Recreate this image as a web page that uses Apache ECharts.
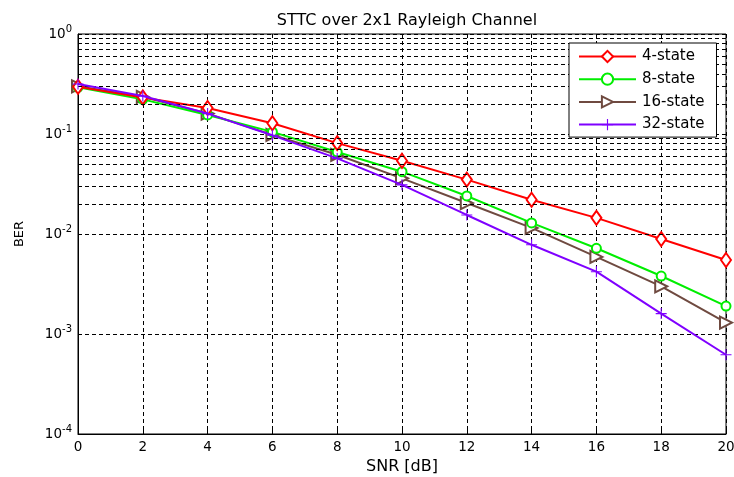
<!DOCTYPE html>
<html><head><meta charset="utf-8">
<script src="https://cdn.jsdelivr.net/npm/echarts@6/dist/echarts.min.js"></script>
<style>html,body{margin:0;padding:0;background:#fff}#c{width:734px;height:477px}</style>
</head><body><div id="c"></div>
<script>
const snr = [0, 2, 4, 6, 8, 10, 12, 14, 16, 18, 20];
const state4 = [0.296, 0.232, 0.182, 0.128, 0.081, 0.054, 0.035, 0.022, 0.0145, 0.0089, 0.0055];
const state8 = [0.293, 0.222, 0.155, 0.105, 0.066, 0.042, 0.024, 0.0129, 0.0072, 0.0038, 0.0019];
const state16 = [0.30, 0.235, 0.16, 0.098, 0.062, 0.036, 0.0204, 0.0115, 0.0059, 0.0030, 0.0013];
const state32 = [0.316, 0.24, 0.16, 0.097, 0.057, 0.031, 0.0155, 0.0078, 0.0042, 0.0016, 0.00062];
const names = ['4-state', '8-state', '16-state', '32-state'];
const minorGrid = [];
for (let e = -4; e < 0; e++) for (let m = 2; m <= 9; m++) minorGrid.push(m * Math.pow(10, e));

const font = 'DejaVu Sans, sans-serif';
const pairs = a => snr.map((x, i) => [x, a[i]]);
const plusPath = 'path://M-1,-10L1,-10L1,-1L10,-1L10,1L1,1L1,10L-1,10L-1,1L-10,1L-10,-1L-1,-1Z';
const dash = [4, 3];

const chart = echarts.init(document.getElementById('c'), null, {renderer: 'canvas'});
chart.setOption({
  animation: false,
  backgroundColor: '#fff',
  title: {
    text: 'STTC over 2x1 Rayleigh Channel', left: 402, top: 8, textAlign: 'center',
    textStyle: {fontFamily: font, fontSize: 16, fontWeight: 'normal', color: '#000'}
  },
  grid: {left: 78, right: 8, top: 34, bottom: 43, show: true, borderColor: '#000', borderWidth: 1,
         outerBoundsMode: 'none', containLabel: false},
  legend: {
    orient: 'vertical', left: 569, top: 43, zlevel: 2,
    backgroundColor: '#fff', borderColor: '#000', borderWidth: 1,
    padding: [6, 12, 5, 9], itemWidth: 57, itemHeight: 14, itemGap: 7.7,
    data: names,
    textStyle: {fontFamily: font, fontSize: 15, color: '#000', padding: [0, 0, 0, 1]}
  },
  xAxis: {
    type: 'value', min: 0, max: 20, interval: 2,
    name: 'SNR [dB]', nameLocation: 'middle', nameGap: 25,
    nameTextStyle: {fontFamily: font, fontSize: 16, color: '#000'},
    axisLine: {lineStyle: {color: '#000', width: 1}},
    axisTick: {inside: true, length: 4, lineStyle: {color: '#000'}},
    axisLabel: {fontFamily: font, fontSize: 13.5, color: '#000', margin: 6},
    splitLine: {show: true, lineStyle: {color: '#000', type: dash, width: 1}}
  },
  yAxis: {
    type: 'log', logBase: 10, min: 1e-4, max: 1,
    name: 'BER', nameLocation: 'middle', nameGap: 52, nameRotate: 90,
    nameTextStyle: {fontFamily: font, fontSize: 13, color: '#000'},
    axisLine: {lineStyle: {color: '#000', width: 1}},
    axisTick: {inside: true, length: 4, lineStyle: {color: '#000'}},
    axisLabel: {
      fontFamily: font, color: '#000', margin: 6,
      formatter: v => '{a|10}{b|' + Math.round(Math.log10(v)) + '}',
      rich: {
        a: {fontFamily: font, fontSize: 13.5, color: '#000'},
        b: {fontFamily: font, fontSize: 10, color: '#000', padding: [0, 0, 10, 0]}
      }
    },
    splitLine: {show: true, lineStyle: {color: '#000', type: dash, width: 1}}
  },
  series: [
    {
      type: 'line', name: '_grid', data: [], silent: true, legendHoverLink: false,
      markLine: {
        silent: true, symbol: 'none', label: {show: false}, animation: false,
        lineStyle: {color: '#000', type: dash, width: 1},
        data: minorGrid.map(v => ({yAxis: v}))
      }
    },
    {
      type: 'line', name: names[0], data: pairs(state4), color: '#ff0000',
      symbol: 'emptyDiamond', symbolSize: [10, 14],
      lineStyle: {width: 2}, itemStyle: {borderWidth: 1.5}, z: 4
    },
    {
      type: 'line', name: names[1], data: pairs(state8), color: '#00ee00',
      symbol: 'emptyCircle', symbolSize: 9,
      lineStyle: {width: 2}, itemStyle: {borderWidth: 1.5}, z: 3
    },
    {
      type: 'line', name: names[2], data: pairs(state16), color: '#6f4a40',
      symbol: 'emptyTriangle', symbolSize: 12, symbolRotate: -90,
      lineStyle: {width: 2}, itemStyle: {borderWidth: 1.8}, z: 2
    },
    {
      type: 'line', name: names[3], data: pairs(state32), color: '#7f00ff',
      symbol: plusPath, symbolSize: 11,
      lineStyle: {width: 2}, itemStyle: {borderWidth: 0}, z: 5
    }
  ]
});
</script></body></html>
